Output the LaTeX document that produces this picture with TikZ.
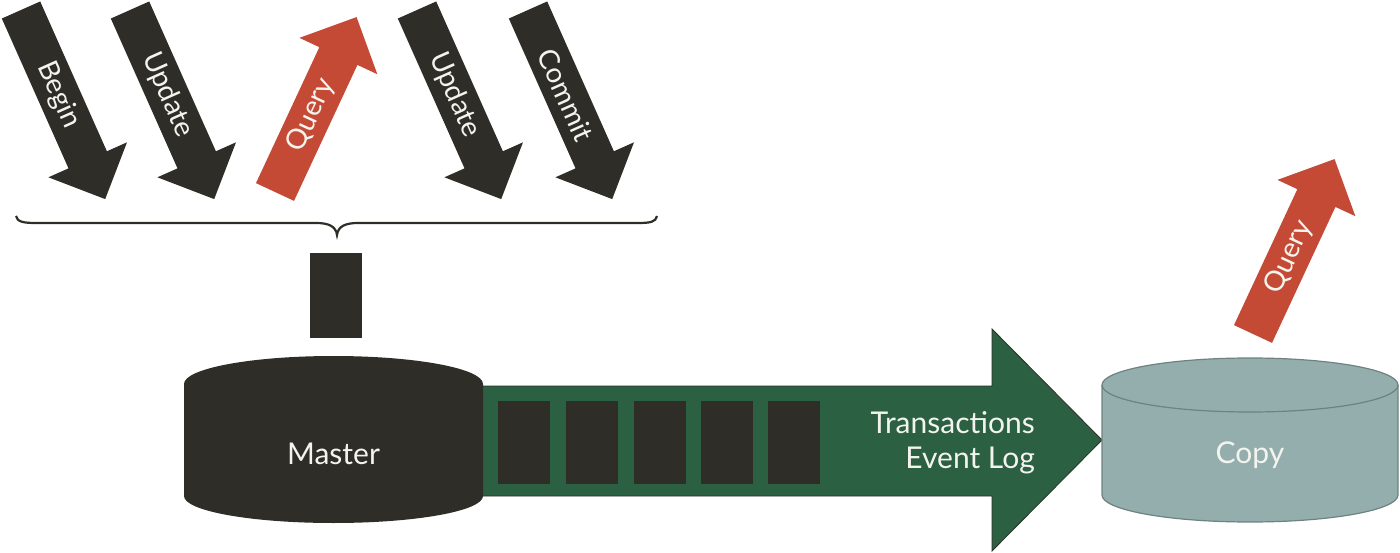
\documentclass[tikz,border=0pt]{standalone}
\usepackage{fontspec}
\setmainfont{Lato}
\definecolor{darkc}{HTML}{2F2D28}
\definecolor{greenc}{HTML}{2B6043}
\definecolor{redc}{HTML}{C54A36}
\definecolor{copyc}{HTML}{94AEAE}
\definecolor{copyline}{HTML}{6E827F}
\definecolor{txtc}{HTML}{F4F4EE}
\tikzset{
  darkfill/.style={fill=darkc},
  redfill/.style={fill=redc},
  lbl/.style={text=txtc, font=\fontsize{28}{32}\selectfont, inner sep=0pt},
  biglbl/.style={text=txtc, font=\fontsize{30}{35}\selectfont, inner sep=0pt},
  logbox/.style={fill=darkc},
}
\begin{document}
\begin{tikzpicture}[x=1pt,y=-1pt]
\useasboundingbox (0,0) rectangle (1400,553);

% --- incoming / outgoing operation arrows ---
\begin{scope}[shift={(21,10)}, rotate=24]
  \fill[darkfill] (-21,0) -- (21,0) -- (21,164) -- (43,164) -- (0,207) -- (-43,164) -- (-21,164) -- cycle;
  \node[lbl, rotate=-66] (begin) at (0,93) {Begin};
\end{scope}
\begin{scope}[shift={(130,10)}, rotate=24]
  \fill[darkfill] (-21,0) -- (21,0) -- (21,164) -- (43,164) -- (0,207) -- (-43,164) -- (-21,164) -- cycle;
  \node[lbl, rotate=-66] (update1) at (0,93) {Update};
\end{scope}
\begin{scope}[shift={(275,192)}, rotate=155]
  \fill[redfill] (-21,0) -- (21,0) -- (21,150) -- (43,150) -- (0,193) -- (-43,150) -- (-21,150) -- cycle;
  \node[lbl, rotate=65] (query1) at (0,85) {Query};
\end{scope}
\begin{scope}[shift={(417,10)}, rotate=24]
  \fill[darkfill] (-21,0) -- (21,0) -- (21,164) -- (43,164) -- (0,207) -- (-43,164) -- (-21,164) -- cycle;
  \node[lbl, rotate=-66] (update2) at (0,93) {Update};
\end{scope}
\begin{scope}[shift={(528,10)}, rotate=24]
  \fill[darkfill] (-21,0) -- (21,0) -- (21,164) -- (43,164) -- (0,207) -- (-43,164) -- (-21,164) -- cycle;
  \node[lbl, rotate=-66] (commit) at (0,93) {Commit};
\end{scope}
\begin{scope}[shift={(1253,334)}, rotate=155]
  \fill[redfill] (-21,0) -- (21,0) -- (21,150) -- (43,150) -- (0,193) -- (-43,150) -- (-21,150) -- cycle;
  \node[lbl, rotate=65] (query2) at (0,85) {Query};
\end{scope}

% --- brace ---
\coordinate (brL) at (16,216);
\coordinate (brM) at (337,235);
\coordinate (brR) at (657,216);
\draw[darkc, line width=2.2pt]
  (brL) .. controls (17,222) and (24,223) .. (36,223) -- (316,223)
  .. controls (328,223) and (336,226) .. (brM)
  .. controls (338,226) and (346,223) .. (358,223) -- (638,223)
  .. controls (650,223) and (656,222) .. (brR);

% --- session block ---
\node[fill=darkc, minimum width=52pt, minimum height=85pt, inner sep=0pt, anchor=north west] (session) at (310,253) {};

% --- transaction log arrow ---
\fill[greenc, draw=darkc, line width=0.8pt]
  (470,386) -- (992,386) -- (992,329) -- (1102,440) -- (992,551) -- (992,496) -- (470,496) -- cycle;
\foreach \xx/\nm in {498/b1,566/b2,634/b3,701/b4,768/b5}{
  \node[logbox, minimum width=52pt, minimum height=83pt, inner sep=0pt, anchor=north west] (\nm) at (\xx,401) {};
}
\node[biglbl, align=right, anchor=base east] (logtxt) at (1035,468) {Transactions\\Event Log};

% --- master cylinder ---
\fill[darkc] (184,384) -- (184,496) arc[start angle=180, end angle=0, x radius=149.5, y radius=27]
  -- (483,384) arc[start angle=0, end angle=-180, x radius=149.5, y radius=28] -- cycle;
\node[biglbl, anchor=base] (master) at (333.5,464) {Master};

% --- copy cylinder ---
\filldraw[fill=copyc, draw=copyline, line width=1.2pt]
  (1102,385) -- (1102,495) arc[start angle=180, end angle=0, x radius=148, y radius=27]
  -- (1398,385) arc[start angle=0, end angle=-180, x radius=148, y radius=27] -- cycle;
\draw[copyline, line width=1.2pt] (1102,385) arc[start angle=180, end angle=0, x radius=148, y radius=27];
\node[biglbl, anchor=base] (copy) at (1250,463) {Copy};
\end{tikzpicture}
\end{document}
